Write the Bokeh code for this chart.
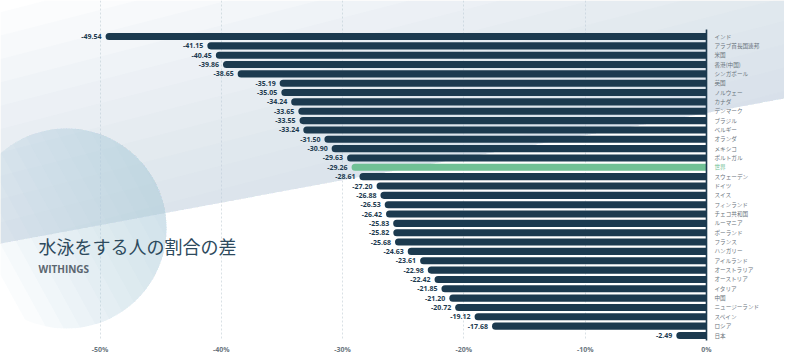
import math
from bokeh.plotting import figure
from bokeh.models import ColumnDataSource, Range1d, FixedTicker
from bokeh.core.properties import value
from bokeh.embed import file_html
from bokeh.resources import INLINE

# ---------------- data ----------------
countries = ["インド", "アラブ首長国連邦", "米国", "香港(中国)", "シンガポール", "英国",
             "ノルウェー", "カナダ", "デンマーク", "ブラジル", "ベルギー", "オランダ",
             "メキシコ", "ポルトガル", "世界", "スウェーデン", "ドイツ", "スイス",
             "フィンランド", "チェコ共和国", "ルーマニア", "ポーランド", "フランス",
             "ハンガリー", "アイルランド", "オーストラリア", "オーストリア", "イタリア",
             "中国", "ニュージーランド", "スペイン", "ロシア", "日本"]
values = [-49.54, -41.15, -40.45, -39.86, -38.65, -35.19, -35.05, -34.24, -33.65,
          -33.55, -33.24, -31.50, -30.90, -29.63, -29.26, -28.61, -27.20, -26.88,
          -26.53, -26.42, -25.83, -25.82, -25.68, -24.63, -23.61, -22.98, -22.42,
          -21.85, -21.20, -20.72, -19.12, -17.68, -2.49]
highlight = "世界"
tick_values = [-50, -40, -30, -20, -10, 0]
tick_labels = ["-50%", "-40%", "-30%", "-20%", "-10%", "0%"]
title_text = "水泳をする人の割合の差"
subtitle_text = "WITHINGS"

# ---------------- layout calibration (pixels -> data) ----------------
NAVY = "#1c3a4f"
GREEN = "#70c195"
ZERO_PX = 706.0
PX_PER_PCT = 12.13
ROW0_PX = 36.0
ROW_PX = 9.344
FRAME_W = 784
FRAME_H = 340


def dx(px):
    return (px - ZERO_PX) / PX_PER_PCT


def dy(py):
    return (py - ROW0_PX) / ROW_PX


p = figure(frame_width=FRAME_W, frame_height=FRAME_H, min_border=0,
           x_range=Range1d(dx(0), dx(FRAME_W)),
           y_range=Range1d(dy(FRAME_H), dy(0)),
           y_axis_location=None, output_backend="svg", toolbar_location=None)
p.outline_line_color = None
p.background_fill_color = "white"
p.border_fill_color = "white"
p.ygrid.visible = False


def clip(poly, a, b, c):
    out = []
    n = len(poly)
    for i in range(n):
        P = poly[i]
        Q = poly[(i + 1) % n]
        fp = a * P[0] + b * P[1] - c
        fq = a * Q[0] + b * Q[1] - c
        if fp >= 0:
            out.append(P)
        if (fp >= 0) != (fq >= 0):
            t = fp / (fp - fq)
            out.append((P[0] + t * (Q[0] - P[0]), P[1] + t * (Q[1] - P[1])))
    return out


# background diagonal band (gradient approximation)
band = [(0, 0), (800, 0), (800, 95), (0, 243)]
K = 16
bxs, bys = [], []
for k in range(K):
    t = (k + 0.5) / K
    poly = clip(band, 0.55 / 800, 0.65 / 243, t)
    if len(poly) >= 3:
        bxs.append([dx(q[0]) for q in poly])
        bys.append([dy(q[1]) for q in poly])
p.patches(bxs, bys, fill_color="#c6d6e1", fill_alpha=0.065, line_color=None)

# background circle (gradient approximation)
cx, cy, r = 66.0, 228.0, 100.0
circ = [(cx + r * math.cos(2 * math.pi * i / 96), cy + r * math.sin(2 * math.pi * i / 96))
        for i in range(96)]
cxs, cys = [], []
KC = 13
for k in range(KC):
    t = -1.0 + 2.2 * (k + 0.5) / KC
    poly = clip(circ, 1.0 / r, -0.55 / r, t + (cx / r) - 0.55 * cy / r)
    if len(poly) >= 3:
        cxs.append([dx(q[0]) for q in poly])
        cys.append([dy(q[1]) for q in poly])
p.patches(cxs, cys, fill_color="#b8cddb", fill_alpha=0.065, line_color=None)

# grid
p.xgrid.ticker = FixedTicker(ticks=tick_values[:-1])
p.xgrid.grid_line_color = "#d9e0e5"
p.xgrid.grid_line_dash = "2 2"
p.xgrid.grid_line_width = 1

# bars
src = ColumnDataSource(dict(
    y=list(range(len(countries))),
    v=values,
    c=countries,
    lab=["%.2f" % v for v in values],
    color=[GREEN if c == highlight else NAVY for c in countries],
    tcolor=[GREEN if c == highlight else "#6a747c" for c in countries],
))
p.hbar(y="y", left="v", right=0, height=0.76, fill_color="color", line_color=None,
       border_radius=(4, 0, 0, 4), source=src)

# zero line
p.segment(x0=[0], y0=[dy(29)], x1=[0], y1=[dy(342)], line_color=NAVY, line_width=1.6)

# value labels
p.text(x="v", y="y", text="lab", x_offset=-4, text_align="right", text_baseline="middle",
       text_font=value("Open Sans"), text_font_style="bold", text_font_size="7px",
       text_color=NAVY, source=src)

# country labels
p.text(x=0, y="y", text="c", x_offset=8, text_align="left", text_baseline="middle",
       text_font=value("Noto Sans CJK JP"), text_font_size="5.6px",
       text_color="tcolor", source=src)

# title / subtitle
p.text(x=[dx(38)], y=[dy(245)], text=[title_text], text_align="left", text_baseline="middle",
       text_font=value("Noto Sans CJK JP"), text_font_size="18px", text_color="#2d4a5d")
p.text(x=[dx(38)], y=[dy(268.5)], text=[subtitle_text], text_align="left", text_baseline="middle",
       text_font=value("Open Sans"), text_font_style="bold", text_font_size="10px",
       text_color="#5b6670")

# x axis
p.xaxis.ticker = FixedTicker(ticks=tick_values)
p.xaxis.major_label_overrides = {t: l for t, l in zip(tick_values, tick_labels)}
p.xaxis.axis_line_color = None
p.xaxis.major_tick_line_color = None
p.xaxis.minor_tick_line_color = None
p.xaxis.major_tick_out = 0
p.xaxis.major_tick_in = 0
p.xaxis.minor_tick_out = 0
p.xaxis.major_label_standoff = 4
p.xaxis.major_label_text_font = "Open Sans"
p.xaxis.major_label_text_font_style = "bold"
p.xaxis.major_label_text_font_size = "7px"
p.xaxis.major_label_text_color = "#6b7680"

open("out.html", "w").write(file_html(p, INLINE))
